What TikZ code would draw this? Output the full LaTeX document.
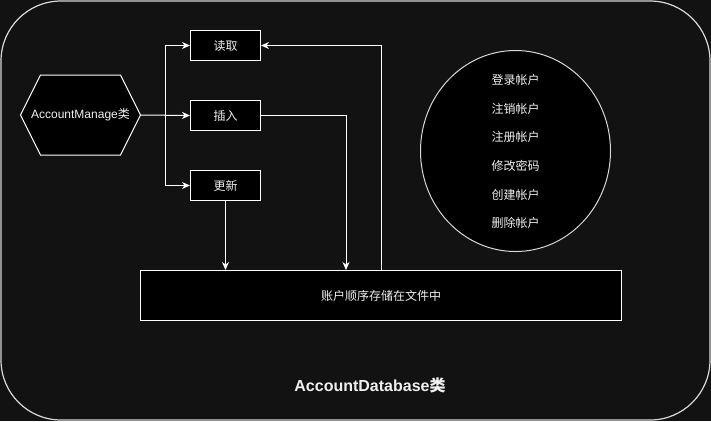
\documentclass[tikz,border=0pt]{standalone}
\usepackage{fontspec}
\setmainfont{Liberation Sans}
\newfontfamily\cjk{Noto Sans CJK SC}
\usetikzlibrary{arrows.meta,shapes.geometric}
\definecolor{bgc}{HTML}{121212}
\definecolor{edgec}{HTML}{D8D8D8}
\definecolor{txt}{HTML}{F0F0F0}
\tikzset{
  every node/.style={text=txt, font=\fontsize{12}{14}\selectfont},
  opbox/.style={draw=white, fill=black, line width=1pt, minimum width=70pt, minimum height=30pt, inner sep=0pt},
  link/.style={draw=white, line width=1pt, -{Stealth[length=8pt,width=7pt,inset=2.5pt]}},
}
\begin{document}
\begin{tikzpicture}[x=1pt,y=-1pt]
\useasboundingbox (0,0) rectangle (711,421);
\fill[bgc] (0,0) rectangle (711,421);
% outer rounded container
\draw[edgec, line width=1.2pt, rounded corners=60pt] (1,1) rectangle (710,420);

% hexagon
\node[minimum width=120pt, minimum height=80pt, inner sep=0pt] (hex) at (80.5,115) {};
\draw[white, fill=black, line width=1pt] (20.5,115) -- (40.5,75) -- (120.5,75) -- (140.5,115) -- (120.5,155) -- (40.5,155) -- cycle;
\node at (hex.center) {AccountManage{\cjk 类}};

% operation boxes
\node[opbox] (read) at (225.5,45.5) {\cjk 读取};
\node[opbox] (ins) at (225.5,115.5) {\cjk 插入};
\node[opbox] (upd) at (225.5,185.5) {\cjk 更新};

% storage box
\node[draw=white, fill=black, line width=1pt, minimum width=481pt, minimum height=50pt, inner sep=0pt] (store) at (381,295.5) {\cjk 账户顺序存储在文件中};

% circle with functions
\node[ellipse, draw=edgec, fill=black, line width=1pt, minimum width=190pt, minimum height=201pt, inner sep=0pt] (ops) at (515.5,151) {};
\node[align=center, inner sep=0pt, font=\cjk\fontsize{12}{28.7}\selectfont] (opstext) at (515.5,151.5)
  {登录帐户\\注销帐户\\注册帐户\\修改密码\\创建帐户\\删除帐户};

% title
\node[font=\bfseries\fontsize{16}{19}\selectfont] (title) at (370,385) {AccountDatabase{\cjk\bfseries 类}};

% connectors
\coordinate (j) at (165.5,115.5);
\draw[link] (hex.east) -- (ins.west);
\draw[link] (j) |- (read.west);
\draw[link] (j) |- (upd.west);
\draw[link] (ins.east) -| (store.north -| 346,0);
\draw[link] (upd.south) -- (store.north -| upd.south);
\draw[link] (store.north -| 381,0) |- (read.east);
\end{tikzpicture}
\end{document}
